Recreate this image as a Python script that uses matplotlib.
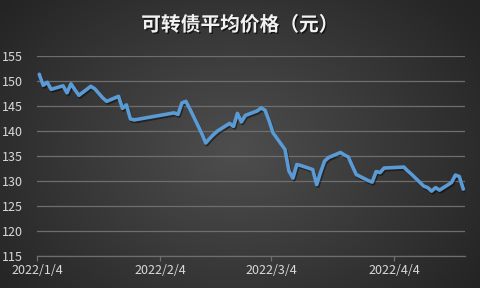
import numpy as np
import pandas as pd
import matplotlib
matplotlib.use("Agg")
import matplotlib.pyplot as plt
import matplotlib.dates as mdates
import matplotlib.patheffects as pe

plt.rcParams['font.family'] = ['Noto Sans CJK SC', 'DejaVu Sans']

title = "可转债平均价格（元）"

dates = [
    "2022-01-04", "2022-01-05", "2022-01-06", "2022-01-07",
    "2022-01-10", "2022-01-11", "2022-01-12", "2022-01-13", "2022-01-14",
    "2022-01-17", "2022-01-18", "2022-01-19", "2022-01-20", "2022-01-21",
    "2022-01-24", "2022-01-25", "2022-01-26", "2022-01-27", "2022-01-28",
    "2022-02-07", "2022-02-08", "2022-02-09", "2022-02-10", "2022-02-11",
    "2022-02-14", "2022-02-15", "2022-02-16", "2022-02-17", "2022-02-18",
    "2022-02-21", "2022-02-22", "2022-02-23", "2022-02-24", "2022-02-25",
    "2022-02-28", "2022-03-01", "2022-03-02", "2022-03-03", "2022-03-04",
    "2022-03-07", "2022-03-08", "2022-03-09", "2022-03-10", "2022-03-11",
    "2022-03-14", "2022-03-15", "2022-03-16", "2022-03-17", "2022-03-18",
    "2022-03-21", "2022-03-22", "2022-03-23", "2022-03-24", "2022-03-25",
    "2022-03-28", "2022-03-29", "2022-03-30", "2022-03-31", "2022-04-01",
    "2022-04-06", "2022-04-07", "2022-04-08",
    "2022-04-11", "2022-04-12", "2022-04-13", "2022-04-14", "2022-04-15",
    "2022-04-18", "2022-04-19", "2022-04-20", "2022-04-21",
]
prices = [
    151.3, 149.1, 149.7, 148.3,
    149.0, 147.6, 149.4, 148.2, 147.1,
    148.9, 148.4, 147.5, 146.6, 145.9,
    146.9, 144.5, 145.2, 142.4, 142.2,
    143.6, 143.3, 145.6, 145.9, 144.4,
    139.5, 137.6, 138.5, 139.3, 140.0,
    141.5, 140.9, 143.5, 141.8, 143.1,
    144.0, 144.6, 144.1, 142.0, 139.6,
    136.3, 132.0, 130.6, 133.3, 133.1,
    132.3, 129.3, 131.8, 134.0, 134.7,
    135.7, 135.2, 134.8, 133.0, 131.3,
    130.1, 129.8, 131.9, 131.7, 132.6,
    132.8, 132.0, 131.3,
    129.0, 128.7, 128.0, 128.7, 128.2,
    129.7, 131.2, 130.9, 128.4,
]
xtick_dates = ["2022-01-04", "2022-02-04", "2022-03-04", "2022-04-04"]
xtick_labels = ["2022/1/4", "2022/2/4", "2022/3/4", "2022/4/4"]
yticks = [115, 120, 125, 130, 135, 140, 145, 150, 155]

fig = plt.figure(figsize=(4.8, 2.88), dpi=100)

# radial gradient background
bg = fig.add_axes([0, 0, 1, 1], zorder=-10)
H, W = 288, 480
yy, xx = np.mgrid[0:H, 0:W]
cx, cy = 235, 150
r = np.sqrt(((xx - cx) / 300.0) ** 2 + ((yy - cy) / 230.0) ** 2)
r = np.clip(r, 0, 1)
c_in, c_out = 0x4e / 255, 0x24 / 255
val = c_in + (c_out - c_in) * r
img = np.dstack([val, val, val])
bg.imshow(img, aspect='auto', extent=[0, 1, 0, 1], origin='upper')
bg.axis('off')

ax = fig.add_axes([0.0777, 0.110, 0.8917, 0.6965])
ax.patch.set_alpha(0)

x = pd.to_datetime(dates) + pd.Timedelta(hours=12)
ax.plot(x, prices, color='#5b9bd5', lw=2.6, solid_joinstyle='round',
        solid_capstyle='round', zorder=3,
        path_effects=[pe.SimpleLineShadow(offset=(0.8, -1.2), shadow_color='black', alpha=0.45),
                      pe.Normal()])

ax.set_ylim(115, 155)
ax.set_yticks(yticks)
ax.set_xlim(pd.Timestamp("2022-01-04"), pd.Timestamp("2022-04-22"))
ax.set_xticks(pd.to_datetime(xtick_dates))
ax.set_xticklabels(xtick_labels)

ax.grid(axis='y', color='#6e6e6e', lw=0.9)
ax.set_axisbelow(True)
for s in ['left', 'right', 'top']:
    ax.spines[s].set_visible(False)
ax.spines['bottom'].set_color('#6e6e6e')
ax.spines['bottom'].set_linewidth(0.9)
ax.tick_params(axis='y', length=0, pad=10, labelsize=9, labelcolor='#d9d9d9')
ax.tick_params(axis='x', length=3.5, width=0.9, color='#6e6e6e', pad=2,
               labelsize=9, labelcolor='#d9d9d9')

fig.text(0.5, 0.913, title, ha='center', va='center', fontsize=14.2,
         fontweight='bold', color='#f2f2f2',
         path_effects=[pe.withSimplePatchShadow(offset=(1, -1), shadow_rgbFace='black', alpha=0.6)])

fig.savefig("out.png", dpi=100)
